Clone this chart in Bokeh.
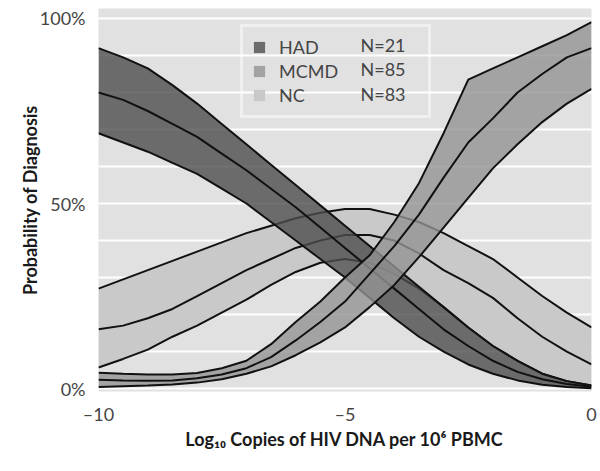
from bokeh.plotting import figure
from bokeh.models import Range1d, FixedTicker, Legend, LegendItem, Label, ColumnDataSource
from bokeh.embed import file_html
from bokeh.resources import INLINE

# ---- data ----
log_dna = [-10, -9.5, -9, -8.5, -8, -7.5, -7, -6.5, -6, -5.5, -5,
           -4.5, -4, -3.5, -3, -2.5, -2, -1.5, -1, -0.5, 0]

had_upper = [0.92, 0.895, 0.865, 0.82, 0.77, 0.715, 0.66, 0.605, 0.55, 0.495, 0.44,
             0.385, 0.33, 0.275, 0.22, 0.165, 0.115, 0.075, 0.04, 0.02, 0.008]
had_mid = [0.80, 0.78, 0.75, 0.715, 0.68, 0.635, 0.59, 0.54, 0.49, 0.435, 0.38,
           0.325, 0.27, 0.215, 0.16, 0.115, 0.075, 0.045, 0.025, 0.012, 0.005]
had_lower = [0.69, 0.665, 0.64, 0.61, 0.58, 0.54, 0.50, 0.45, 0.40, 0.35, 0.30,
             0.245, 0.19, 0.14, 0.10, 0.065, 0.04, 0.022, 0.01, 0.004, 0.001]

mcmd_upper = [0.043, 0.04, 0.038, 0.038, 0.042, 0.055, 0.075, 0.12, 0.18, 0.235, 0.30,
              0.36, 0.45, 0.555, 0.69, 0.835, 0.865, 0.895, 0.925, 0.955, 0.99]
mcmd_mid = [0.024, 0.022, 0.021, 0.022, 0.028, 0.038, 0.055, 0.085, 0.13, 0.18, 0.235,
            0.31, 0.385, 0.47, 0.57, 0.665, 0.73, 0.80, 0.85, 0.895, 0.92]
mcmd_lower = [0.004, 0.006, 0.008, 0.011, 0.016, 0.025, 0.04, 0.06, 0.09, 0.125, 0.165,
              0.22, 0.28, 0.355, 0.435, 0.515, 0.595, 0.66, 0.72, 0.77, 0.81]

nc_upper = [0.27, 0.295, 0.32, 0.345, 0.37, 0.395, 0.42, 0.44, 0.46, 0.475, 0.485,
            0.485, 0.47, 0.45, 0.42, 0.385, 0.35, 0.30, 0.25, 0.205, 0.165]
nc_mid = [0.16, 0.17, 0.19, 0.215, 0.25, 0.285, 0.32, 0.35, 0.38, 0.40, 0.415,
          0.415, 0.40, 0.365, 0.32, 0.285, 0.245, 0.19, 0.14, 0.10, 0.065]
nc_lower = [0.057, 0.08, 0.105, 0.14, 0.17, 0.205, 0.24, 0.28, 0.315, 0.34, 0.35,
            0.34, 0.31, 0.27, 0.22, 0.165, 0.115, 0.075, 0.04, 0.02, 0.008]

groups = ["HAD", "MCMD", "NC"]
group_n = ["N=21", "N=85", "N=83"]
x_ticks = [-10, -5, 0]
x_tick_labels = ["\u201310", "\u20135", "0"]
y_ticks = [0, 0.5, 1]
y_tick_labels = ["0%", "50%", "100%"]
grid_ticks = [0, 0.1, 0.2, 0.3, 0.4, 0.5, 0.6, 0.7, 0.8, 0.9, 1.0]

# ---- figure ----
p = figure(frame_width=493, frame_height=383,
           min_border_left=98, min_border_right=6, min_border_top=8, min_border_bottom=66,
           x_range=Range1d(-10, 0), y_range=Range1d(-0.008, 1.027),
           output_backend="svg", toolbar_location=None)
p.background_fill_color = "#e1e1e1"
p.border_fill_color = "white"
p.outline_line_color = None
p.xgrid.grid_line_color = None
p.ygrid.ticker = FixedTicker(ticks=grid_ticks)
p.ygrid.grid_line_color = "white"
p.ygrid.grid_line_width = 2

src = ColumnDataSource(dict(x=log_dna,
                            hu=had_upper, hm=had_mid, hl=had_lower,
                            mu=mcmd_upper, mm=mcmd_mid, ml=mcmd_lower,
                            nu=nc_upper, nm=nc_mid, nl=nc_lower))

line_kw = dict(line_color="#111111", line_width=2)

# NC band (light, bottom layer)
nc_band = p.varea(x="x", y1="nl", y2="nu", source=src, fill_color="#c9c9c9", fill_alpha=1.0)
for c in ["nu", "nm", "nl"]:
    p.line(x="x", y=c, source=src, **line_kw)

# HAD band (dark)
had_band = p.varea(x="x", y1="hl", y2="hu", source=src, fill_color="#4e4e4e", fill_alpha=0.8)
for c in ["hu", "hm", "hl"]:
    p.line(x="x", y=c, source=src, **line_kw)

# MCMD band (medium)
mcmd_band = p.varea(x="x", y1="ml", y2="mu", source=src, fill_color="#949494", fill_alpha=0.8)
for c in ["mu", "mm", "ml"]:
    p.line(x="x", y=c, source=src, **line_kw)

# ---- axes ----
font = "Lato"
p.xaxis.ticker = FixedTicker(ticks=x_ticks)
p.xaxis.major_label_overrides = {t: l for t, l in zip(x_ticks, x_tick_labels)}
p.yaxis.ticker = FixedTicker(ticks=y_ticks)
p.yaxis.major_label_overrides = {t: l for t, l in zip(y_ticks, y_tick_labels)}
for ax in (p.xaxis[0], p.yaxis[0]):
    ax.axis_line_color = None
    ax.major_tick_line_color = None
    ax.minor_tick_line_color = None
    ax.major_label_text_font = font
    ax.major_label_text_font_size = "18px"
    ax.major_label_text_color = "#454545"
    ax.axis_label_text_font = font
    ax.axis_label_text_font_style = "bold"
    ax.axis_label_text_font_size = "18px"
    ax.axis_label_text_color = "#1a1a1a"
p.xaxis.major_label_standoff = 5
p.yaxis.major_label_standoff = 7
p.xaxis.axis_label = "Log\u2081\u2080 Copies of HIV DNA per 10\u2076 PBMC"
p.yaxis.axis_label = "Probability of Diagnosis"
p.xaxis.axis_label_standoff = 0
p.yaxis.axis_label_standoff = -4

# ---- legend ----
legend = Legend(items=[LegendItem(label=g, renderers=[r]) for g, r in
                       zip(groups, [had_band, mcmd_band, nc_band])],
                location=(142, 273), orientation="vertical")
legend.background_fill_alpha = 0.0
legend.border_line_color = "white"
legend.border_line_width = 3
legend.padding = 9
legend.margin = 0
legend.spacing = 2
legend.glyph_width = 14
legend.glyph_height = 14
legend.label_height = 20
legend.label_width = 140
legend.label_standoff = 13
legend.label_text_font = font
legend.label_text_font_size = "18px"
legend.label_text_color = "#454545"
legend.label_text_baseline = "middle"
p.add_layout(legend, "center")

for i, n in enumerate(group_n):
    p.add_layout(Label(x=262, y=383 - 36 - 24.5 * i, x_units="screen", y_units="screen",
                       text=n, text_font=font, text_font_size="18px",
                       text_color="#454545", text_baseline="middle"))

open("out.html", "w").write(file_html(p, INLINE))
